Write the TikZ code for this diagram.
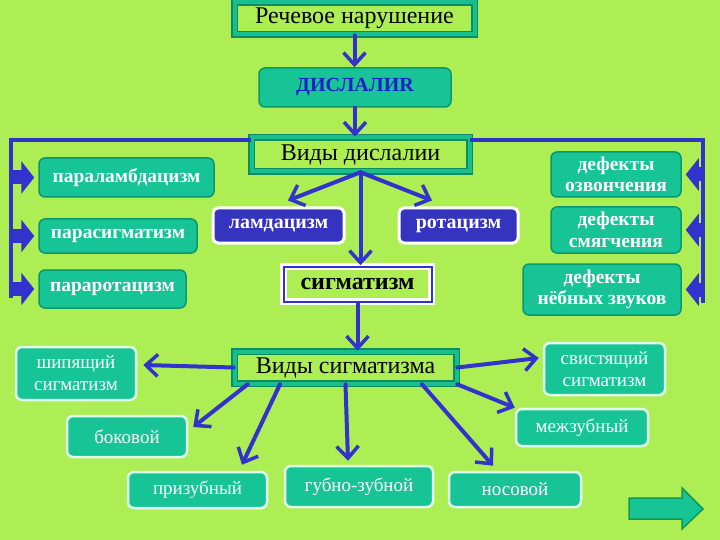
\documentclass[tikz,border=0pt]{standalone}
\usepackage{fontspec}
\setmainfont{Liberation Serif}
\usetikzlibrary{arrows.meta,calc}
\definecolor{bgc}{RGB}{173,238,84}
\definecolor{tealc}{RGB}{22,196,150}
\definecolor{tealdk}{RGB}{12,150,110}
\definecolor{framec}{RGB}{24,190,140}
\definecolor{framedk}{RGB}{10,140,100}
\definecolor{bluec}{RGB}{50,50,205}
\definecolor{boxblue}{RGB}{52,52,190}
\definecolor{lightbd}{RGB}{222,255,236}
\definecolor{distext}{RGB}{30,30,205}
\definecolor{navdk}{RGB}{20,150,80}
\tikzset{
  framebox/.style={draw=framedk, line width=1.6pt, double=framec, double distance=4pt,
    fill=bgc, inner sep=0pt, font=\fontsize{24}{26}\selectfont, text=black},
  tealbox/.style={draw=tealdk, line width=1.5pt, fill=tealc, rounded corners=6pt,
    inner sep=0pt, text=white, align=center, font=\bfseries\fontsize{19.5}{21.5}\selectfont},
  litebox/.style={draw=lightbd, line width=2.5pt, fill=tealc, rounded corners=6pt,
    inner sep=0pt, text=white, align=center, font=\fontsize{19}{22}\selectfont},
  bluebox/.style={draw=white, line width=3pt, fill=boxblue, rounded corners=5pt,
    inner sep=0pt, text=white, font=\bfseries\fontsize{20}{22}\selectfont},
  sigbox/.style={draw=white, line width=2.5pt, double=bluec, double distance=2pt,
    fill=bgc, inner sep=0pt, font=\bfseries\fontsize{24}{26}\selectfont, text=black},
  arr/.style={draw=bluec, line width=4pt, line cap=round,
    -{Straight Barb[length=12pt,width=22pt,line width=3.5pt]}},
  bar/.style={draw=bluec, line width=4pt},
  fat/.style={draw=bluec, line width=14pt,
    -{Triangle[length=13pt,width=32pt]}, shorten >=4pt},
}
\begin{document}
\begin{tikzpicture}[x=1pt,y=-1pt]
\useasboundingbox[fill=bgc] (0,0) rectangle (720,540);
% top chain
\node[framebox, minimum width=240pt, minimum height=32pt] (ren) at (354.5,18.5) {Речевое нарушение};
\node[tealbox, minimum width=192pt, minimum height=39pt, text=distext,
  font=\bfseries\fontsize{20}{22}\selectfont] (dis) at (355,87.5) {ДИСЛАЛИR};
\node[framebox, minimum width=218pt, minimum height=34pt] (vd) at (360.5,154.5) {Виды дислалии};
% left
\node[tealbox, minimum width=175pt, minimum height=39pt] (p1) at (126.5,177.5) {параламбдацизм};
\node[tealbox, minimum width=158pt, minimum height=34pt] (p2) at (118,236) {парасигматизм};
\node[tealbox, minimum width=147pt, minimum height=38pt] (p3) at (112.5,289) {параротацизм};
% right
\node[tealbox, minimum width=130pt, minimum height=45pt] (r1) at (616,174.5) {дефекты\\озвончения};
\node[tealbox, minimum width=130pt, minimum height=46pt] (r2) at (616,230) {дефекты\\смягчения};
\node[tealbox, minimum width=158pt, minimum height=51pt] (r3) at (602,289.5) {дефекты\\нёбных звуков};
% middle
\node[bluebox, minimum width=131pt, minimum height=35pt] (lam) at (278.5,225.5) {ламдацизм};
\node[bluebox, minimum width=119pt, minimum height=35pt] (rot) at (458.5,225.5) {ротацизм};
\node[sigbox, minimum width=148pt, minimum height=35pt] (sig) at (357.5,284) {сигматизм};
\node[framebox, minimum width=222pt, minimum height=32pt] (vs) at (345.5,367.5) {Виды сигматизма};
% bottom
\node[litebox, minimum width=120pt, minimum height=53pt] (b1) at (76,373.5) {шипящий\\сигматизм};
\node[litebox, minimum width=120pt, minimum height=41pt] (b2) at (127,436.5) {боковой};
\node[litebox, minimum width=139pt, minimum height=36pt] (b3) at (197.5,490) {призубный};
\node[litebox, minimum width=148pt, minimum height=41pt] (b4) at (359,486.5) {губно-зубной};
\node[litebox, minimum width=132pt, minimum height=35pt] (b5) at (515,489.5) {носовой};
\node[litebox, minimum width=132pt, minimum height=37pt] (b6) at (582,427.5) {межзубный};
\node[litebox, minimum width=121pt, minimum height=52pt] (b7) at (604.5,369) {свистящий\\сигматизм};
% brackets
\coordinate (lt) at (11,140);
\coordinate (lb) at (11,298);
\coordinate (rt) at (703,140);
\coordinate (rb) at (703,303);
\draw[bar] (vd.west |- lt) -- (lt) -- (lb);
\draw[bar] (vd.east |- rt) -- (rt) -- (rb);
\draw[fat] (p1.west -| lt) -- (p1.west);
\draw[fat] (p2.west -| lt) -- (p2.west);
\draw[fat] (p3.west -| lt) -- (p3.west);
\draw[fat] (r1.east -| rt) -- (r1.east);
\draw[fat] (r2.east -| rt) -- (r2.east);
\draw[fat] (r3.east -| rt) -- (r3.east);
% arrows
\draw[arr] (ren.south) -- (ren.south |- dis.north);
\draw[arr] (dis.south) -- (dis.south |- vd.north);
\draw[arr] (vd.south) -- ([xshift=9.5pt,yshift=6pt]lam.north);
\draw[arr] (vd.south) -- ([xshift=-26.5pt,yshift=6pt]rot.north);
\draw[arr] (vd.south) -- (vd.south |- sig.north);
\draw[arr] (sig.south) -- (sig.south |- vs.north);
\draw[arr] (vs.west) -- ([xshift=6pt,yshift=8.5pt]b1.east);
\draw[arr] ([xshift=14pt]vs.south west) -- ([xshift=5pt,yshift=9.5pt]b2.east);
\draw[arr] ([xshift=-65.5pt]vs.south) -- ([xshift=44.5pt,yshift=6pt]b3.north);
\draw[arr] (vs.south) -- ([xshift=-11pt,yshift=4pt]b4.north);
\draw[arr] ([xshift=76.5pt]vs.south) -- ([xshift=-22pt,yshift=5pt]b5.north);
\draw[arr] (vs.south east) -- ([yshift=0pt]b6.north west);
\draw[arr] (vs.east) -- ([xshift=-4pt,yshift=11pt]b7.west);
% navigation arrow
\draw[fill=tealc, draw=navdk, line width=1.5pt, line join=miter]
  (629,498) -- (682,498) -- (682,488) -- (703,509) -- (682,529) -- (682,519) -- (629,519) -- cycle;
\end{tikzpicture}
\end{document}
